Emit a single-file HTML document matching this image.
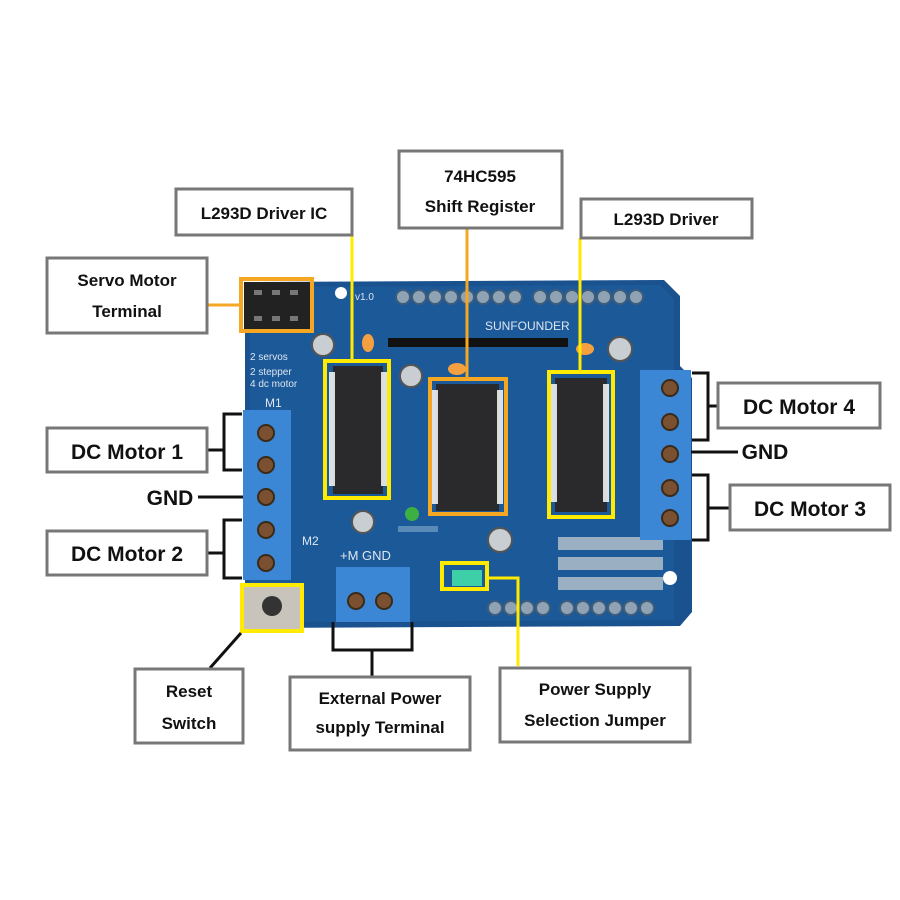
<!DOCTYPE html>
<html><head><meta charset="utf-8"><style>
html,body{margin:0;padding:0;background:#fff}
svg{display:block}
text{font-family:"Liberation Sans",sans-serif;font-weight:bold;fill:#111}
</style></head><body>
<svg width="900" height="900" viewBox="0 0 900 900" xmlns="http://www.w3.org/2000/svg">
<rect width="900" height="900" fill="#fff"/>
<path d="M245 282 L664 280 L680 296 L680 366 L692 378 L692 612 L680 626 L245 628 Z" fill="#1a5290"/>
<path d="M250 287 L660 285 L674 299 L674 620 L250 622 Z" fill="#1e5c9c" opacity="0.7"/>
<g fill="#8fa3b5" stroke="#3d5d7c" stroke-width="2">
<circle cx="403" cy="297" r="7"/><circle cx="419" cy="297" r="7"/><circle cx="435" cy="297" r="7"/><circle cx="451" cy="297" r="7"/><circle cx="467" cy="297" r="7"/><circle cx="483" cy="297" r="7"/><circle cx="499" cy="297" r="7"/><circle cx="515" cy="297" r="7"/>
<circle cx="540" cy="297" r="7"/><circle cx="556" cy="297" r="7"/><circle cx="572" cy="297" r="7"/><circle cx="588" cy="297" r="7"/><circle cx="604" cy="297" r="7"/><circle cx="620" cy="297" r="7"/><circle cx="636" cy="297" r="7"/>
<circle cx="567" cy="608" r="7"/><circle cx="583" cy="608" r="7"/><circle cx="599" cy="608" r="7"/><circle cx="615" cy="608" r="7"/><circle cx="631" cy="608" r="7"/><circle cx="647" cy="608" r="7"/>
<circle cx="495" cy="608" r="7"/><circle cx="511" cy="608" r="7"/><circle cx="527" cy="608" r="7"/><circle cx="543" cy="608" r="7"/>
</g>
<g fill="#9ab0c2">
<rect x="558" y="537" width="105" height="13"/><rect x="558" y="557" width="105" height="13"/><rect x="558" y="577" width="105" height="13"/>
</g>
<circle cx="341" cy="293" r="6" fill="#fff"/><circle cx="670" cy="578" r="7" fill="#fff"/>
<text x="355" y="300" font-size="10" style="fill:#dde6f0;font-weight:normal">v1.0</text>
<text x="485" y="330" font-size="12" style="fill:#dde6f0;font-weight:normal">SUNFOUNDER</text>
<text x="250" y="360" font-size="10" style="fill:#dde6f0;font-weight:normal">2 servos</text>
<text x="250" y="375" font-size="10" style="fill:#dde6f0;font-weight:normal">2 stepper</text>
<text x="250" y="387" font-size="10" style="fill:#dde6f0;font-weight:normal">4 dc motor</text>
<text x="265" y="407" font-size="12" style="fill:#dde6f0;font-weight:normal">M1</text>
<text x="302" y="545" font-size="12" style="fill:#dde6f0;font-weight:normal">M2</text>
<text x="340" y="560" font-size="13" style="fill:#dde6f0;font-weight:normal">+M  GND</text>
<rect x="388" y="338" width="180" height="9" fill="#111"/>
<g fill="#c9ced3" stroke="#555" stroke-width="2">
<circle cx="323" cy="345" r="11"/><circle cx="411" cy="376" r="11"/><circle cx="363" cy="522" r="11"/><circle cx="500" cy="540" r="12"/><circle cx="620" cy="349" r="12"/>
</g>
<g fill="#f5a040"><ellipse cx="368" cy="343" rx="6" ry="9"/><ellipse cx="457" cy="369" rx="9" ry="6"/><ellipse cx="585" cy="349" rx="9" ry="6"/></g>
<circle cx="412" cy="514" r="7" fill="#3cb043"/>
<rect x="398" y="526" width="40" height="6" fill="#5a8ab8"/>
<g fill="#2a2a2c"><rect x="333" y="366" width="50" height="128"/><rect x="436" y="384" width="63" height="127"/><rect x="555" y="378" width="52" height="134"/></g>
<g fill="#eee">
<rect x="329" y="372" width="6" height="114" opacity="0.9"/><rect x="381" y="372" width="6" height="114" opacity="0.9"/>
<rect x="432" y="390" width="6" height="114" opacity="0.9"/><rect x="497" y="390" width="6" height="114" opacity="0.9"/>
<rect x="551" y="384" width="6" height="118" opacity="0.9"/><rect x="603" y="384" width="6" height="118" opacity="0.9"/>
</g>
<rect x="243" y="410" width="48" height="170" fill="#3c86d6"/>
<rect x="640" y="370" width="51" height="170" fill="#3c86d6"/>
<rect x="336" y="567" width="74" height="55" fill="#3c86d6"/>
<g fill="#7a5030" stroke="#3a2a18" stroke-width="2">
<circle cx="266" cy="433" r="8"/><circle cx="266" cy="465" r="8"/><circle cx="266" cy="497" r="8"/><circle cx="266" cy="530" r="8"/><circle cx="266" cy="563" r="8"/>
<circle cx="670" cy="388" r="8"/><circle cx="670" cy="422" r="8"/><circle cx="670" cy="454" r="8"/><circle cx="670" cy="488" r="8"/><circle cx="670" cy="518" r="8"/>
<circle cx="356" cy="601" r="8"/><circle cx="384" cy="601" r="8"/>
</g>
<rect x="242" y="584" width="60" height="46" fill="#c8c4bc"/>
<circle cx="272" cy="606" r="10" fill="#333"/>
<rect x="452" y="570" width="30" height="16" fill="#3fcfa8"/>
<rect x="244" y="282" width="66" height="48" fill="#222"/>
<g fill="#777"><rect x="254" y="290" width="8" height="5"/><rect x="272" y="290" width="8" height="5"/><rect x="290" y="290" width="8" height="5"/><rect x="254" y="316" width="8" height="5"/><rect x="272" y="316" width="8" height="5"/><rect x="290" y="316" width="8" height="5"/></g>
<g fill="none" stroke-width="4">
<rect x="241" y="279" width="71" height="52" stroke="#f5a623"/>
<rect x="325" y="361" width="64" height="137" stroke="#ffea00"/>
<rect x="430" y="379" width="76" height="135" stroke="#f5a623"/>
<rect x="549" y="372" width="64" height="145" stroke="#ffea00"/>
<rect x="242" y="585" width="60" height="46" stroke="#ffea00"/>
<rect x="442" y="563" width="45" height="26" stroke="#ffea00"/>
</g>
<g stroke-width="3" fill="none">
<line x1="352" y1="234" x2="352" y2="361" stroke="#ffea00"/>
<line x1="467" y1="228" x2="467" y2="379" stroke="#f5a623"/>
<line x1="580" y1="238" x2="580" y2="372" stroke="#ffea00"/>
<polyline points="487,578 518,578 518,666" stroke="#ffea00"/>
<line x1="207" y1="305" x2="241" y2="305" stroke="#f5a623"/>
</g>
<g stroke="#111" stroke-width="3" fill="none">
<polyline points="242,414 224,414 224,470 242,470"/><line x1="207" y1="450" x2="224" y2="450"/>
<polyline points="242,520 224,520 224,578 242,578"/><line x1="207" y1="553" x2="224" y2="553"/>
<line x1="198" y1="497" x2="243" y2="497"/>
<polyline points="692,373 708,373 708,440 692,440"/><line x1="708" y1="406" x2="718" y2="406"/>
<polyline points="692,475 708,475 708,540 692,540"/><line x1="708" y1="508" x2="730" y2="508"/>
<line x1="691" y1="452" x2="738" y2="452"/>
<polyline points="333,622 333,650 412,650 412,622"/><line x1="372" y1="650" x2="372" y2="677"/>
<line x1="241" y1="633" x2="210" y2="668"/>
</g>
<g fill="#fff" stroke="#777" stroke-width="3">
<rect x="176" y="189" width="176" height="46"/>
<rect x="399" y="151" width="163" height="77"/>
<rect x="581" y="199" width="171" height="39"/>
<rect x="47" y="258" width="160" height="75"/>
<rect x="47" y="428" width="160" height="44"/>
<rect x="47" y="531" width="160" height="44"/>
<rect x="718" y="383" width="162" height="45"/>
<rect x="730" y="485" width="160" height="45"/>
<rect x="135" y="669" width="108" height="74"/>
<rect x="290" y="677" width="180" height="73"/>
<rect x="500" y="668" width="190" height="74"/>
</g>
<g font-size="17" text-anchor="middle">
<text x="264" y="219">L293D Driver IC</text>
<text x="480" y="182">74HC595</text>
<text x="480" y="212">Shift Register</text>
<text x="666" y="225">L293D Driver</text>
<text x="127" y="286">Servo Motor</text>
<text x="127" y="317">Terminal</text>
<text x="189" y="697">Reset</text>
<text x="189" y="729">Switch</text>
<text x="380" y="704">External Power</text>
<text x="380" y="733">supply Terminal</text>
<text x="595" y="695">Power Supply</text>
<text x="595" y="726">Selection Jumper</text>
</g>
<g font-size="21" text-anchor="middle">
<text x="127" y="459">DC Motor 1</text>
<text x="127" y="561">DC Motor 2</text>
<text x="799" y="414">DC Motor 4</text>
<text x="810" y="516">DC Motor 3</text>
<text x="170" y="505">GND</text>
<text x="765" y="459">GND</text>
</g>
</svg>
</body></html>
